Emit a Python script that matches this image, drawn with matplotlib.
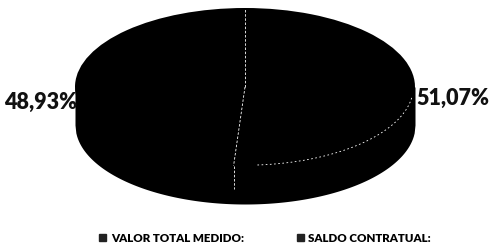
import numpy as np
import matplotlib.pyplot as plt
from matplotlib.patches import Patch

labels = ['VALOR TOTAL MEDIDO:', 'SALDO CONTRATUAL:']
values = [48.93, 51.07]
pct_text = ['48,93%', '51,07%']

plt.rcParams['font.family'] = ['Lato', 'DejaVu Sans']

fig = plt.figure(figsize=(4.97, 2.52), dpi=100)
ax = fig.add_axes([0, 0, 1, 1])

# pixel mapping: centre (245, 87 from top), a=170, b=79, depth 38
cx, cy, a, b = 245, 252 - 87, 170, 79
depth = 38 / b

# side of the cylinder
xs = np.linspace(-1, 1, 400)
ax.fill_between(xs, 0, -np.sqrt(1 - xs**2) - depth, color='black', lw=0)

# top face
wedges, _ = ax.pie(values[::-1], startangle=90, counterclock=False,
                   colors=['black', 'black'], radius=1,
                   wedgeprops=dict(lw=0))
ax.set_aspect('auto')
ax.set_xlim(-cx / a, (497 - cx) / a)
ax.set_ylim(-cy / b, (252 - cy) / b)

# slice boundaries (white dashed)
end = np.deg2rad(90 - 360 * values[1] / sum(values))
ax.plot([0, 0], [0, 1], color='white', lw=0.6, ls=(0, (3, 2)))
ax.plot([0, np.cos(end)], [0, np.sin(end)], color='white', lw=0.6, ls=(0, (3, 2)))
ax.plot([np.cos(end)] * 2, [np.sin(end), np.sin(end) - depth * 0.6],
        color='white', lw=0.6, ls=(0, (3, 2)))
t = np.linspace(np.deg2rad(-8), end + np.deg2rad(8), 100)
ax.plot(np.cos(t) * 0.99, np.sin(t) * 0.99, color='white', lw=0.6, ls=(0, (2, 3)))

ax.text(-0.985, -0.19, pct_text[0], ha='right', va='center',
        fontsize=15.5, fontweight='heavy', color='#111111')
ax.text(1.01, -0.15, pct_text[1], ha='left', va='center',
        fontsize=15.5, fontweight='heavy', color='#111111')
ax.axis('off')

handles = [Patch(color='#222222', label=l) for l in labels]
fig.legend(handles=handles, loc='center', bbox_to_anchor=(265 / 497, 14 / 252),
           ncol=2, frameon=False, handlelength=0.6, handleheight=0.6,
           handletextpad=0.4, columnspacing=4.6,
           prop=dict(size=8.3, weight='heavy'))

fig.savefig('out.png', dpi=100)
